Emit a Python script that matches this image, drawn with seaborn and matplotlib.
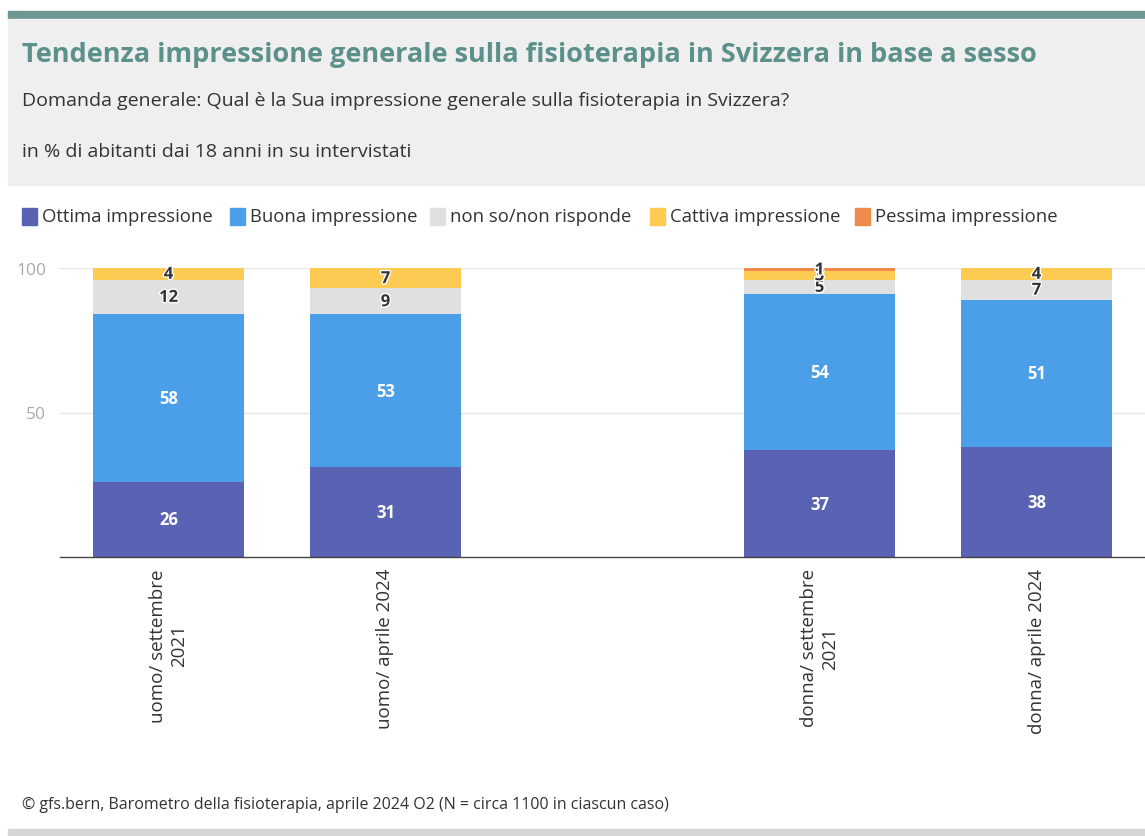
import matplotlib
matplotlib.use("Agg")
import matplotlib.pyplot as plt
import seaborn as sns
import pandas as pd
import numpy as np
from matplotlib.patches import Rectangle
import matplotlib.patheffects as pe

sns.set_theme(style="white")
plt.rcParams['font.family'] = ['Open Sans', 'DejaVu Sans']

categories = ["uomo/ settembre\n2021", "uomo/ aprile 2024", "donna/ settembre\n2021", "donna/ aprile 2024"]
series_names = ["Ottima impressione", "Buona impressione", "non so/non risponde", "Cattiva impressione", "Pessima impressione"]
ottima = [26, 31, 37, 38]
buona = [58, 53, 54, 51]
nonso = [12, 9, 5, 7]
cattiva = [4, 7, 3, 4]
pessima = [0, 0, 1, 0]
colors = ["#5a62b3", "#4a9fe8", "#e0e0e0", "#fdcb52", "#f08a4b"]
label_colors = ["white", "white", "#333333", "#333333", "#333333"]
yticks = [50, 100]

series = [ottima, buona, nonso, cattiva, pessima]
order = [categories[0], categories[1], " ", categories[2], categories[3]]

fig = plt.figure(figsize=(11.45, 8.37), dpi=100)
W, H = 1145, 837
def fx(px): return px / W
def fy(py): return 1 - py / H

# header
fig.patches.append(Rectangle((fx(8), fy(20)), 1 - fx(8), fy(12) - fy(20), transform=fig.transFigure, color="#6e9794", zorder=0))
fig.patches.append(Rectangle((fx(8), fy(186)), 1 - fx(8), fy(20) - fy(186), transform=fig.transFigure, color="#efefef", zorder=0))
fig.patches.append(Rectangle((fx(8), 0), 1 - fx(8), fy(830), transform=fig.transFigure, color="#d6d6d6", zorder=0))
fig.text(fx(22), fy(55), "Tendenza impressione generale sulla fisioterapia in Svizzera in base a sesso",
         fontsize=19.5, fontweight="bold", color="#5b908b", va="center", ha="left")
fig.text(fx(22), fy(101), "Domanda generale: Qual è la Sua impressione generale sulla fisioterapia in Svizzera?",
         fontsize=14, color="#333333", va="center", ha="left")
fig.text(fx(22), fy(152), "in % di abitanti dai 18 anni in su intervistati",
         fontsize=14, color="#333333", va="center", ha="left")

# legend
leg_x = [22, 230, 430, 650, 855]
for x, name, c in zip(leg_x, series_names, colors):
    fig.patches.append(Rectangle((fx(x), fy(226)), fx(15), fy(209) - fy(226), transform=fig.transFigure, color=c))
    fig.text(fx(x + 20), fy(217), name, fontsize=13.3, color="#333333", va="center", ha="left")

fig.text(fx(22), fy(805), "© gfs.bern, Barometro della fisioterapia, aprile 2024 O2 (N = circa 1100 in ciascun caso)",
         fontsize=11.5, color="#333333", va="center", ha="left")

ax = fig.add_axes([fx(60), fy(558), 1 - fx(60), fy(269) - fy(558)])
ax.set_facecolor("none")

cum = np.cumsum(np.array(series), axis=0)
for i in range(len(series) - 1, -1, -1):
    df = pd.DataFrame({"cat": categories, "val": cum[i]})
    sns.barplot(data=df, x="cat", y="val", order=order, color=colors[i], width=0.70,
                saturation=1, ax=ax, zorder=2, edgecolor="none", linewidth=0)

pos = {c: order.index(c) for c in categories}
for i, s in enumerate(series):
    for j, c in enumerate(categories):
        v = s[j]
        if v <= 0:
            continue
        mid = cum[i][j] - v / 2
        t = ax.text(pos[c], mid, str(v), ha="center", va="center", fontsize=12, fontweight="bold",
                    color=label_colors[i], zorder=5, clip_on=False)
        if i >= 2:
            t.set_path_effects([pe.withStroke(linewidth=2, foreground="white")])

ax.set_ylim(0, 100)
ax.set_xlim(-0.5, 4.5)
ax.set_yticks(yticks)
ax.set_yticklabels([str(y) for y in yticks], fontsize=12.5, color="#aaaaaa")
ax.tick_params(axis="y", length=0, pad=10)
for y in yticks:
    ax.axhline(y, color="#e6e6e6", linewidth=1, zorder=0)
ax.set_xlabel("")
ax.set_ylabel("")
ax.set_xticks(range(5))
ax.set_xticklabels([c if c.strip() else "" for c in order], rotation=90, fontsize=13.5, color="#333333",
                   ha="center", va="top", multialignment="center")
ax.tick_params(axis="x", length=0, pad=8)
for sp in ["top", "right", "left"]:
    ax.spines[sp].set_visible(False)
ax.spines["bottom"].set_color("#444444")
ax.spines["bottom"].set_linewidth(1)
ax.spines["bottom"].set_zorder(6)

fig.savefig("out.png", dpi=100)
